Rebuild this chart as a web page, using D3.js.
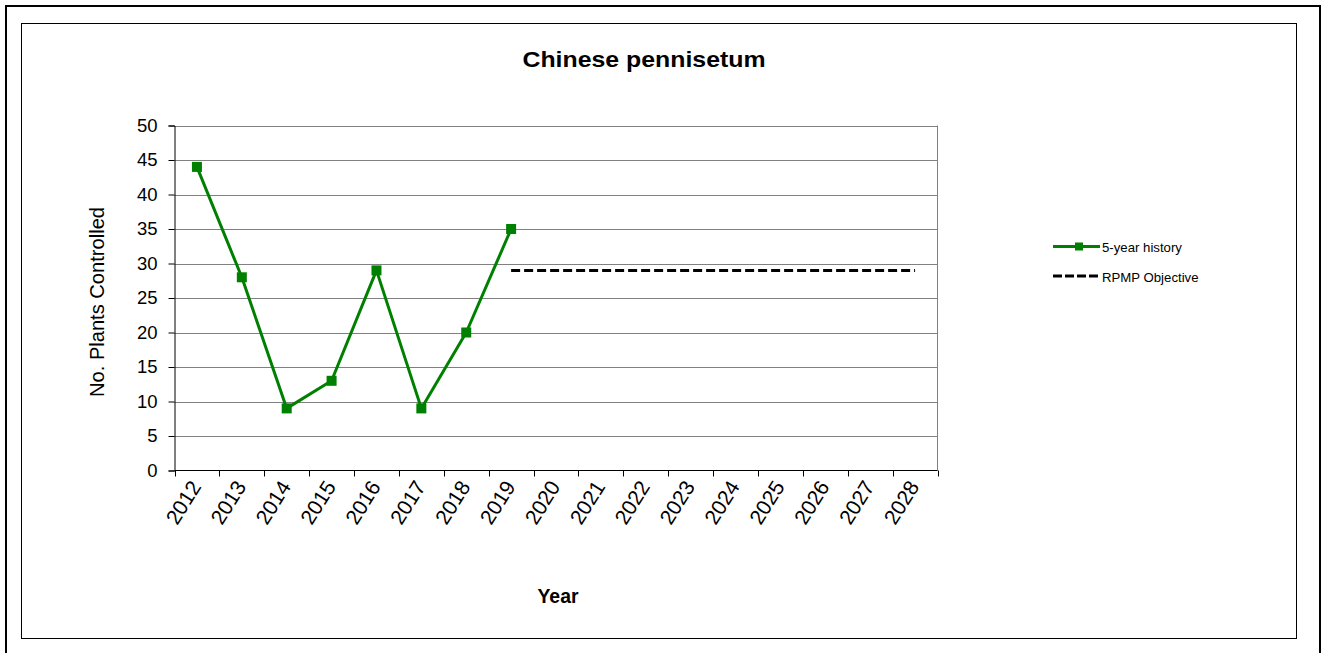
<!DOCTYPE html>
<html>
<head>
<meta charset="utf-8">
<script src="https://cdn.jsdelivr.net/npm/d3@7"></script>
<style>
  body { margin: 0; background: #fff; }
  svg { display: block; font-family: "Liberation Sans", Arial, sans-serif; }
</style>
</head>
<body>
<svg id="chart" width="1322" height="653"></svg>
<script>
// Years on the category axis
const years = ["2012","2013","2014","2015","2016","2017","2018","2019","2020","2021","2022","2023","2024","2025","2026","2027","2028"];
// Plants controlled per year (history)
const historyYears = ["2012","2013","2014","2015","2016","2017","2018","2019"];
const historyValues = [44, 28, 9, 13, 29, 9, 20, 35];
// RPMP objective level, held from 2019 to 2028
const objectiveYears = ["2019","2028"];
const objectiveValues = [29, 29];
const yTicks = [0, 5, 10, 15, 20, 25, 30, 35, 40, 45, 50];

const svg = d3.select("#chart");

// Frames
svg.append("rect").attr("x", 6).attr("y", 6).attr("width", 1314).attr("height", 660)
  .attr("fill", "none").attr("stroke", "#000").attr("stroke-width", 2);
svg.append("rect").attr("x", 21.5).attr("y", 23.5).attr("width", 1275).attr("height", 615)
  .attr("fill", "none").attr("stroke", "#000").attr("stroke-width", 1);

const plot = { left: 174.5, right: 937.5, top: 125.5, bottom: 470.5 };

const x = d3.scaleBand().domain(years).range([plot.left, plot.right]).padding(0);
const y = d3.scaleLinear().domain([0, 50]).range([plot.bottom, plot.top]);
const cx = d => x(d) + x.bandwidth() / 2;

// Horizontal gridlines
svg.append("g").selectAll("line").data(yTicks.filter(v => v > 0)).join("line")
  .attr("x1", plot.left).attr("x2", plot.right)
  .attr("y1", d => Math.round(y(d)) + 0.5).attr("y2", d => Math.round(y(d)) + 0.5)
  .attr("stroke", "#808080").attr("stroke-width", 1);

// Right edge of the plot area
svg.append("line").attr("x1", plot.right).attr("x2", plot.right)
  .attr("y1", plot.top).attr("y2", plot.bottom)
  .attr("stroke", "#808080");

// Y axis
const yAxis = d3.axisLeft(y).tickValues(yTicks).tickSize(6).tickPadding(11).tickFormat(d3.format("d"));
const gy = svg.append("g").attr("transform", `translate(${plot.left},0)`).call(yAxis);
gy.select(".domain").attr("stroke", "#000");
gy.selectAll(".tick line").attr("stroke", "#000");
gy.selectAll(".tick text").attr("font-size", 18.5).attr("fill", "#000")
  .attr("font-family", "'Liberation Sans', Arial, sans-serif");

// X axis: ticks on category boundaries
const boundaries = years.map(d => x(d)).concat([plot.right]);
const gx = svg.append("g");
gx.append("line").attr("x1", plot.left).attr("x2", plot.right)
  .attr("y1", plot.bottom).attr("y2", plot.bottom).attr("stroke", "#000");
gx.selectAll("line.tk").data(boundaries).join("line").attr("class", "tk")
  .attr("x1", d => Math.round(d) + 0.5).attr("x2", d => Math.round(d) + 0.5)
  .attr("y1", plot.bottom).attr("y2", plot.bottom + 6).attr("stroke", "#000");
gx.selectAll("text").data(years).join("text")
  .attr("transform", d => `translate(${cx(d) + 5},${plot.bottom + 16}) rotate(-58)`)
  .attr("text-anchor", "end")
  .attr("font-size", 21).attr("fill", "#000")
  .text(d => d);

// Objective line
const line = d3.line().x(d => cx(d[0])).y(d => y(d[1]));
svg.append("path")
  .datum(objectiveYears.map((d, i) => [d, objectiveValues[i]]))
  .attr("d", line).attr("fill", "none")
  .attr("stroke", "#000").attr("stroke-width", 3).attr("stroke-dasharray", "9,4");

// History line and markers
const hist = historyYears.map((d, i) => [d, historyValues[i]]);
svg.append("path").datum(hist).attr("d", line).attr("fill", "none")
  .attr("stroke", "#008000").attr("stroke-width", 3).attr("stroke-linejoin", "round");
svg.append("g").selectAll("rect").data(hist).join("rect")
  .attr("x", d => cx(d[0]) - 5).attr("y", d => y(d[1]) - 5)
  .attr("width", 10).attr("height", 10).attr("fill", "#008000");

// Titles
svg.append("text").attr("x", 644).attr("y", 67).attr("text-anchor", "middle")
  .attr("font-size", 22.5).attr("font-weight", "bold")
  .attr("textLength", 243).attr("lengthAdjust", "spacingAndGlyphs")
  .text("Chinese pennisetum");
svg.append("text").attr("transform", "translate(104,302) rotate(-90)")
  .attr("text-anchor", "middle").attr("font-size", 19.5)
  .attr("textLength", 190).attr("lengthAdjust", "spacingAndGlyphs")
  .text("No. Plants Controlled");
svg.append("text").attr("x", 558).attr("y", 603).attr("text-anchor", "middle")
  .attr("font-size", 20).attr("font-weight", "bold")
  .attr("textLength", 41).attr("lengthAdjust", "spacingAndGlyphs")
  .text("Year");

// Legend
const legend = svg.append("g");
legend.append("line").attr("x1", 1053).attr("x2", 1100).attr("y1", 246.5).attr("y2", 246.5)
  .attr("stroke", "#008000").attr("stroke-width", 3);
legend.append("rect").attr("x", 1075).attr("y", 242.5).attr("width", 8).attr("height", 8).attr("fill", "#008000");
legend.append("text").attr("x", 1102).attr("y", 252).attr("font-size", 13.2).text("5-year history");
legend.append("line").attr("x1", 1053).attr("x2", 1100).attr("y1", 276).attr("y2", 276)
  .attr("stroke", "#000").attr("stroke-width", 3).attr("stroke-dasharray", "9,3");
legend.append("text").attr("x", 1102).attr("y", 281.5).attr("font-size", 13.2).text("RPMP Objective");
</script>
</body>
</html>
